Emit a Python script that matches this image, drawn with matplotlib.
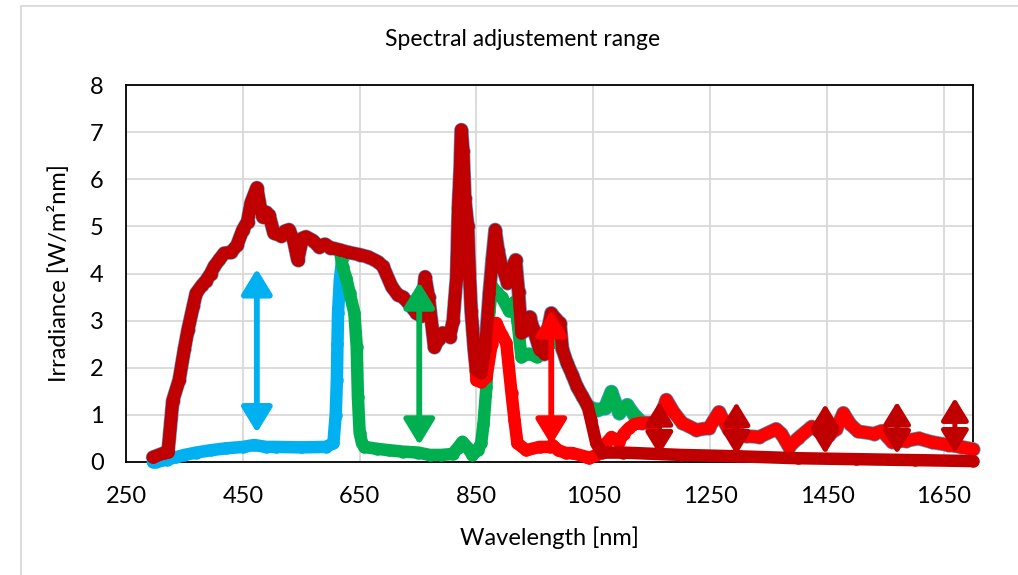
import numpy as np
import matplotlib
matplotlib.use("Agg")
import matplotlib.pyplot as plt
from matplotlib.patches import FancyArrowPatch, Rectangle

plt.rcParams['font.family'] = ['Lato', 'DejaVu Sans']

# full spectrum
full_nm = np.array([296, 315, 322, 330, 341, 350, 356, 365, 370, 380, 387, 395, 401, 410, 418, 430,
                    440, 450, 458, 464, 474, 480, 484, 490, 495, 503, 515, 522, 529, 537, 544, 552,
                    558, 570, 580, 590, 600, 616, 630, 650, 665, 681, 690, 705, 715, 724, 735, 747,
                    755, 762, 768, 778, 785, 792, 804, 810, 816, 819, 822, 824, 827, 830, 835, 838,
                    841, 846, 850, 858, 865, 872, 877, 882, 887, 893, 898, 903, 910, 917, 922, 927,
                    934, 941, 948, 958, 966, 972, 978, 985, 993, 997, 1005, 1014, 1022, 1031, 1040,
                    1046, 1057, 1070, 1081, 1094, 1108, 1120, 1129, 1134, 1158, 1165, 1175, 1188,
                    1202, 1226, 1248, 1265, 1282, 1311, 1334, 1363, 1372, 1385, 1400, 1424, 1440,
                    1453, 1466, 1478, 1490, 1503, 1530, 1544, 1561, 1585, 1607, 1630, 1658, 1680, 1700])
full_val = np.array([0.10, 0.19, 0.22, 1.30, 1.74, 2.40, 2.80, 3.30, 3.58, 3.75, 3.85, 4.00, 4.15, 4.30, 4.43, 4.45,
                     4.60, 4.93, 5.10, 5.50, 5.82, 5.40, 5.20, 5.30, 5.24, 4.86, 4.80, 4.90, 4.93, 4.70, 4.29, 4.75,
                     4.78, 4.70, 4.57, 4.62, 4.55, 4.50, 4.45, 4.40, 4.35, 4.25, 4.15, 3.72, 3.55, 3.50, 3.35, 3.16,
                     3.10, 3.93, 3.50, 2.44, 2.60, 2.74, 2.66, 3.00, 3.93, 5.40, 6.20, 7.05, 6.60, 5.60, 5.00, 4.00,
                     3.20, 2.40, 1.95, 1.89, 2.40, 3.58, 4.30, 4.93, 4.50, 4.14, 4.00, 3.80, 4.10, 4.29, 3.60, 2.74,
                     2.80, 3.08, 2.80, 2.38, 2.30, 2.80, 3.16, 3.05, 2.95, 2.40, 2.10, 1.85, 1.60, 1.40, 1.20,
                     1.15, 1.10, 1.15, 1.49, 1.04, 1.21, 1.00, 0.89, 0.83, 0.83, 0.95, 1.32, 1.05,
                     0.83, 0.68, 0.72, 1.06, 0.68, 0.55, 0.53, 0.70, 0.60, 0.32, 0.50, 0.75, 0.62,
                     0.57, 0.70, 1.04, 0.80, 0.65, 0.60, 0.66, 0.43, 0.45, 0.50, 0.42, 0.36, 0.32, 0.27])

# blue band reduced (up to 620 nm)
blue_nm = np.array([296, 301, 320, 335, 350, 370, 395, 421, 450, 469, 490, 506, 550, 592, 605, 609, 611, 612, 613, 616, 620])
blue_val = np.array([0.00, 0.00, 0.05, 0.10, 0.15, 0.20, 0.25, 0.29, 0.32, 0.36, 0.32, 0.32, 0.31, 0.32, 0.40, 1.00, 1.74, 2.50, 3.16, 3.86, 4.30])

# green band reduced (620 - 990 nm)
green_nm = np.array([621, 627, 633, 641, 645, 647, 650, 654, 658, 680, 700, 724, 750, 770, 790, 809, 818, 826,
                     835, 843, 852, 858, 862, 867, 872, 877, 885, 893, 906, 915, 920, 927, 940, 953, 963, 975, 987])
green_val = np.array([4.14, 3.90, 3.58, 3.16, 2.44, 1.38, 0.62, 0.40, 0.32, 0.28, 0.25, 0.22, 0.20, 0.15, 0.15, 0.17, 0.30, 0.43,
                      0.30, 0.15, 0.25, 0.40, 0.80, 1.60, 3.20, 3.72, 3.60, 3.50, 3.20, 3.40, 3.00, 2.23, 2.30, 2.23, 2.53, 2.60, 2.53])

# red band reduced (848 - 1130 nm)
red_nm = np.array([850, 858, 867, 876, 884, 893, 901, 910, 915, 920, 935, 958, 975, 980, 990, 1003, 1014,
                   1038, 1043, 1055, 1063, 1072, 1081, 1094, 1102, 1111, 1120, 1130])
red_val = np.array([1.74, 1.70, 1.80, 2.50, 2.95, 2.70, 2.53, 1.46, 0.90, 0.40, 0.25, 0.32, 0.32, 0.36, 0.25, 0.19, 0.19,
                    0.11, 0.08, 0.15, 0.22, 0.40, 0.53, 0.43, 0.60, 0.72, 0.80, 0.83])

# infrared reduced (from 1040 nm)
ir_nm = np.array([1046, 1055, 1065, 1100, 1200, 1300, 1400, 1500, 1600, 1700])
ir_val = np.array([0.89, 0.40, 0.20, 0.20, 0.15, 0.12, 0.08, 0.06, 0.04, 0.02])

# double arrows: x, low, high
arrows = [
    (474, 0.62, 4.10, '#00B0F0'),
    (752, 0.36, 3.82, '#00B050'),
    (978, 0.36, 3.23, '#FF0000'),
    (1163, 0.15, 1.28, '#C00000'),
    (1295, 0.15, 1.27, '#C00000'),
    (1447, 0.17, 1.23, '#C00000'),
    (1570, 0.17, 1.28, '#C00000'),
    (1669, 0.19, 1.36, '#C00000'),
]


def splice(seg_nm, seg_val, lo, hi):
    keep_lo = full_nm < lo
    keep_hi = full_nm > hi
    x = np.concatenate([full_nm[keep_lo], seg_nm, full_nm[keep_hi]])
    y = np.concatenate([full_val[keep_lo], seg_val, full_val[keep_hi]])
    return x, y


series = [
    (full_nm, full_val, '#5B9BD5', 10.2),
    splice(blue_nm, blue_val, 296, 620) + ('#00B0F0', 9),
    splice(green_nm, green_val, 620, 990) + ('#00B050', 9),
    splice(red_nm, red_val, 848, 1132) + ('#FF0000', 9),
    splice(ir_nm, ir_val, 1042, 1700) + ('#C00000', 9),
]

fig = plt.figure(figsize=(10.18, 5.75), dpi=100)
ax = fig.add_axes([126 / 1018, (575 - 462) / 575, (973 - 126) / 1018, (462 - 85) / 575])

for x, y, c, lw in series:
    ax.plot(x, y, color=c, lw=lw, solid_capstyle='round', solid_joinstyle='round',
            marker='o', ms=lw, mec='none', clip_on=False, zorder=3)

for xa, lo, hi, c in arrows:
    big = c != '#C00000'
    ar = FancyArrowPatch((xa, lo), (xa, hi), arrowstyle='<|-|>,head_length=0.9,head_width=0.55',
                         mutation_scale=17 if big else 15, color=c, lw=4.2 if big else 3.6,
                         shrinkA=0, shrinkB=0, zorder=5)
    ax.add_patch(ar)

ax.set_xlim(250, 1700)
ax.set_ylim(0, 8)
ax.set_xticks(np.arange(250, 1700, 200))
ax.set_yticks(np.arange(0, 9, 1))
ax.grid(color='#D9D9D9', lw=1.3, zorder=0)
ax.set_axisbelow(True)
for s in ax.spines.values():
    s.set_color('black')
    s.set_linewidth(1.3)
ax.tick_params(length=0, labelsize=17, pad=17)
ax.tick_params(axis='y', pad=16)
ax.set_xlabel('Wavelength [nm]', fontsize=17, labelpad=14)
ax.set_ylabel('Irradiance [W/m²nm]', fontsize=17, labelpad=14)
fig.text(523 / 1018, 1 - 40 / 575, 'Spectral adjustement range', fontsize=16.5, ha='center', va='center')

# chart area border
fig.patches.append(Rectangle((21 / 1018, -0.1), 1.2, 1 - 6 / 575 + 0.1, transform=fig.transFigure,
                             fill=False, ec='#D9D9D9', lw=1.3))

fig.savefig('out.png', dpi=100)
